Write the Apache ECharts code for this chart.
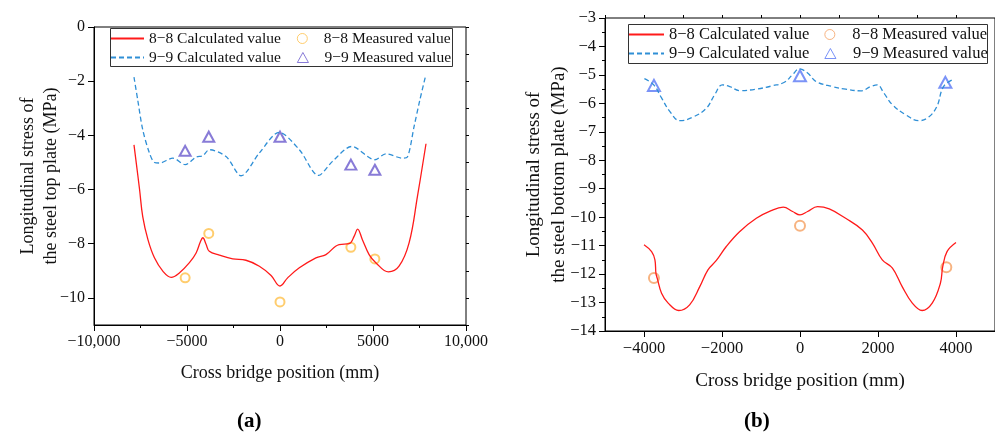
<!DOCTYPE html>
<html>
<head>
<meta charset="utf-8">
<script src="https://cdn.jsdelivr.net/npm/echarts@6/dist/echarts.min.js"></script>
<style>
  html, body { margin: 0; padding: 0; background: #fff; }
  #chart { width: 995px; height: 434px; }
</style>
</head>
<body>
<div id="chart"></div>
<script>
// (a) steel top plate, [x mm, stress MPa]
const topCalc88 = [[-7850,-4.35],[-7550,-6.0],[-7380,-7.0],[-7100,-7.85],[-6750,-8.52],[-6300,-9.01],[-5850,-9.24],[-5400,-9.07],[-4870,-8.70],[-4510,-8.34],[-4280,-7.93],[-4150,-7.78],[-3970,-8.03],[-3800,-8.28],[-3260,-8.42],[-2540,-8.56],[-1830,-8.61],[-1110,-8.83],[-480,-9.17],[0,-9.56],[410,-9.26],[1040,-8.89],[1930,-8.52],[2470,-8.40],[3180,-8.03],[3720,-8.00],[3990,-7.72],[4170,-7.46],[4430,-7.85],[4790,-8.40],[5150,-8.70],[5830,-9.04],[6400,-8.83],[6940,-7.97],[7390,-6.25],[7850,-4.31]];
const topCalc99 = [[-7850,-1.85],[-7650,-2.69],[-7380,-3.79],[-7020,-4.65],[-6750,-5.0],[-6480,-5.02],[-5760,-4.84],[-5100,-5.08],[-4510,-4.80],[-4150,-4.75],[-3800,-4.53],[-2900,-4.78],[-2090,-5.49],[-1110,-4.65],[-40,-3.89],[1040,-4.53],[2070,-5.48],[2820,-4.96],[3860,-4.41],[5100,-4.90],[5690,-4.68],[6580,-4.84],[6850,-4.80],[7210,-3.67],[7520,-2.69],[7840,-1.77]];
const topMeas88 = [[-5100,-9.26],[-3830,-7.62],[0,-10.15],[3810,-8.13],[5100,-8.56]];
const topMeas99 = [[-5100,-4.57],[-3830,-4.05],[0,-4.05],[3810,-5.08],[5100,-5.27]];

// (b) steel bottom plate
const botCalc88 = [[-4000,-10.97],[-3805,-11.21],[-3720,-11.50],[-3694,-11.97],[-3660,-12.15],[-3550,-12.67],[-3380,-13.02],[-3110,-13.28],[-2830,-13.08],[-2570,-12.44],[-2360,-11.85],[-2150,-11.53],[-1890,-11.03],[-1550,-10.51],[-1120,-10.04],[-740,-9.77],[-430,-9.65],[-190,-9.80],[0,-9.92],[195,-9.80],[450,-9.63],[750,-9.71],[1170,-10.04],[1600,-10.45],[1860,-10.92],[2110,-11.50],[2370,-11.79],[2620,-12.44],[2880,-13.02],[3130,-13.28],[3390,-13.02],[3600,-12.32],[3660,-11.74],[3770,-11.21],[4000,-10.89]];
const botCalc99 = [[-3990,-5.13],[-3750,-5.35],[-3550,-5.81],[-3340,-6.28],[-3080,-6.61],[-2740,-6.48],[-2400,-6.17],[-2190,-5.70],[-1990,-5.35],[-1800,-5.41],[-1550,-5.55],[-1120,-5.50],[-700,-5.38],[-400,-5.26],[-190,-4.99],[-20,-4.79],[195,-4.93],[410,-5.23],[830,-5.41],[1170,-5.50],[1560,-5.56],[1810,-5.41],[1980,-5.35],[2150,-5.64],[2370,-6.05],[2710,-6.40],[3050,-6.61],[3300,-6.48],[3510,-6.11],[3680,-5.41],[3940,-5.15]];
const botMeas88 = [[-3745,-12.14],[0,-10.30],[3752,-11.76]];
const botMeas99 = [[-3745,-5.37],[0,-5.03],[3727,-5.26]];

const topYTicks = [-10, -8, -6, -4, -2, 0];
const botXTicks = [-4000, -2000, 0, 2000, 4000];

const names = ['8\u22128 Calculated value', '8\u22128 Measured value', '9\u22129 Calculated value', '9\u22129 Measured value'];

const FONT = '"Times New Roman", "Liberation Serif", serif';
const RED = '#ff1a1a';
const BLUE = '#2f8fd6';
const TOP_CIRCLE = '#ffc04a', TOP_TRI = '#6a5acd';
const BOT_CIRCLE = '#f5a062', BOT_TRI = '#5a78f5';
const TRI_ICON = 'path://M5,0L10,9L0,9Z';
const CIRCLE_ICON = 'path://M5,1A4,4 0 1,1 5,9A4,4 0 1,1 5,1Z';

function minus(v) {
  return String(v).replace('-', '\u2212');
}
function fmtTopX(v) {
  let s = Math.abs(v) >= 10000 ? Math.abs(v).toLocaleString('en-US') : String(Math.abs(v));
  return (v < 0 ? '\u2212' : '') + s;
}

function minorAxis(grid, min, max, interval) {
  return {
    type: 'value', gridIndex: grid, min: min, max: max, interval: interval,
    axisLine: { show: false, onZero: false },
    axisTick: { show: true, length: 3, lineStyle: { color: '#000' } },
    axisLabel: { show: false },
    splitLine: { show: false }
  };
}

// one legend per row so the columns line up
function legendRow(left, top, size, lh, iw, gap, items) {
  return {
    left: left, top: top, orient: 'horizontal', padding: 0,
    itemGap: gap, itemWidth: iw, itemHeight: 10,
    textStyle: { color: '#111', fontFamily: FONT, fontSize: size, lineHeight: lh },
    data: items
  };
}
const hideDot = { opacity: 0 };

const chart = echarts.init(document.getElementById('chart'), null, { renderer: 'canvas' });

chart.setOption({
  animation: false,
  backgroundColor: '#fff',
  grid: [
    { left: 94, top: 27, width: 372, height: 298, show: true, borderColor: '#000', borderWidth: 1 },
    { left: 605, top: 18, width: 392, height: 313, show: true, borderColor: '#000', borderWidth: 1 }
  ],
  xAxis: [
    {
      type: 'value', gridIndex: 0, min: -10000, max: 10000, interval: 5000,
      axisLine: { show: true, onZero: false, lineStyle: { color: '#000' } },
      axisTick: { show: true, length: 6, lineStyle: { color: '#000' } },
      minorTick: { show: true, splitNumber: 2, length: 3, lineStyle: { color: '#000' } },
      axisLabel: { color: '#111', fontFamily: FONT, fontSize: 16, margin: 9, formatter: fmtTopX },
      splitLine: { show: false },
      name: 'Cross bridge position (mm)', nameLocation: 'middle', nameGap: 39,
      nameTextStyle: { color: '#111', fontFamily: FONT, fontSize: 18 }
    },
    {
      type: 'value', gridIndex: 1, min: -5000, max: 5000,
      axisLine: { show: true, onZero: false, lineStyle: { color: '#000' } },
      axisTick: { show: true, length: 6, customValues: botXTicks, lineStyle: { color: '#000' } },
      axisLabel: { color: '#111', fontFamily: FONT, fontSize: 16.5, margin: 9, customValues: botXTicks, formatter: minus },
      splitLine: { show: false },
      name: 'Cross bridge position (mm)', nameLocation: 'middle', nameGap: 41,
      nameTextStyle: { color: '#111', fontFamily: FONT, fontSize: 19 }
    },
    minorAxis(1, -5000, 5000, 1000)
  ],
  yAxis: [
    {
      type: 'value', gridIndex: 0, min: -11, max: 0,
      axisLine: { show: true, onZero: false, lineStyle: { color: '#000' } },
      axisTick: { show: true, length: 6, customValues: topYTicks, lineStyle: { color: '#000' } },
      axisLabel: { color: '#111', fontFamily: FONT, fontSize: 16, margin: 9, customValues: topYTicks, formatter: minus },
      splitLine: { show: false },
      name: 'Longitudinal stress of\nthe steel top plate (MPa)',
      nameLocation: 'middle', nameRotate: 90, nameGap: 31.5, nameMoveOverlap: false,
      nameTextStyle: { color: '#111', fontFamily: FONT, fontSize: 18, lineHeight: 23 }
    },
    minorAxis(0, -11, 0, 1),
    {
      type: 'value', gridIndex: 1, min: -14, max: -3, interval: 1,
      axisLine: { show: true, onZero: false, lineStyle: { color: '#000' } },
      axisTick: { show: true, length: 6, lineStyle: { color: '#000' } },
      minorTick: { show: true, splitNumber: 2, length: 3, lineStyle: { color: '#000' } },
      axisLabel: { color: '#111', fontFamily: FONT, fontSize: 16.5, margin: 9, formatter: minus },
      splitLine: { show: false },
      name: 'Longitudinal stress of\nthe steel bottom plate (MPa)',
      nameLocation: 'middle', nameRotate: 90, nameGap: 33, nameMoveOverlap: false,
      nameTextStyle: { color: '#111', fontFamily: FONT, fontSize: 19, lineHeight: 25 }
    }
  ],
  legend: [
    legendRow(110, 30.5, 15.5, 15, 33, 16, [
      { name: names[0], itemStyle: hideDot },
      { name: names[1], icon: CIRCLE_ICON, itemStyle: { color: '#fff', borderColor: TOP_CIRCLE, borderWidth: 1 } }
    ]),
    legendRow(110, 49.5, 15.5, 15, 33, 16, [
      { name: names[2], itemStyle: hideDot },
      { name: names[3], icon: TRI_ICON, itemStyle: { color: '#fff', borderColor: TOP_TRI, borderWidth: 1 } }
    ]),
    legendRow(628, 26, 16.5, 16, 35, 15, [
      { name: names[0], itemStyle: hideDot },
      { name: names[1], icon: CIRCLE_ICON, itemStyle: { color: '#fff', borderColor: BOT_CIRCLE, borderWidth: 1 } }
    ]),
    legendRow(628, 45, 16.5, 16, 35, 15, [
      { name: names[2], itemStyle: hideDot },
      { name: names[3], icon: TRI_ICON, itemStyle: { color: '#fff', borderColor: BOT_TRI, borderWidth: 1 } }
    ])
  ],
  graphic: [
    { type: 'rect', shape: { x: 110.5, y: 28.5, width: 342, height: 38 }, style: { fill: 'none', stroke: '#333', lineWidth: 1 }, z: 10 },
    { type: 'rect', shape: { x: 628.5, y: 24.5, width: 359, height: 39 }, style: { fill: 'none', stroke: '#333', lineWidth: 1 }, z: 10 },
    { type: 'text', left: 237, top: 411, style: { text: '(a)', font: 'bold 21px ' + FONT, fill: '#000' } },
    { type: 'text', left: 744, top: 411, style: { text: '(b)', font: 'bold 21px ' + FONT, fill: '#000' } }
  ],
  series: [
    { name: names[0], type: 'line', xAxisIndex: 0, yAxisIndex: 0, data: topCalc88, smooth: 0.4, showSymbol: false, symbol: 'none',
      lineStyle: { color: RED, width: 1.3 }, itemStyle: { color: RED } },
    { name: names[2], type: 'line', xAxisIndex: 0, yAxisIndex: 0, data: topCalc99, smooth: 0.3, showSymbol: false, symbol: 'none',
      lineStyle: { color: BLUE, width: 1.3, type: [5, 3] }, itemStyle: { color: BLUE } },
    { name: names[1], type: 'scatter', xAxisIndex: 0, yAxisIndex: 0, data: topMeas88, symbol: 'emptyCircle', symbolSize: 9,
      itemStyle: { color: TOP_CIRCLE, borderWidth: 1 } },
    { name: names[3], type: 'scatter', xAxisIndex: 0, yAxisIndex: 0, data: topMeas99, symbol: 'emptyTriangle', symbolSize: [11, 10],
      itemStyle: { color: TOP_TRI, borderWidth: 1 } },

    { name: names[0], type: 'line', xAxisIndex: 1, yAxisIndex: 2, data: botCalc88, smooth: 0.4, showSymbol: false, symbol: 'none',
      lineStyle: { color: RED, width: 1.3 }, itemStyle: { color: RED } },
    { name: names[2], type: 'line', xAxisIndex: 1, yAxisIndex: 2, data: botCalc99, smooth: 0.4, showSymbol: false, symbol: 'none',
      lineStyle: { color: BLUE, width: 1.3, type: [5, 3] }, itemStyle: { color: BLUE } },
    { name: names[1], type: 'scatter', xAxisIndex: 1, yAxisIndex: 2, data: botMeas88, symbol: 'emptyCircle', symbolSize: 10,
      itemStyle: { color: BOT_CIRCLE, borderWidth: 1 } },
    { name: names[3], type: 'scatter', xAxisIndex: 1, yAxisIndex: 2, data: botMeas99, symbol: 'emptyTriangle', symbolSize: [12, 11],
      itemStyle: { color: BOT_TRI, borderWidth: 1 } }
  ]
});
</script>
</body>
</html>
